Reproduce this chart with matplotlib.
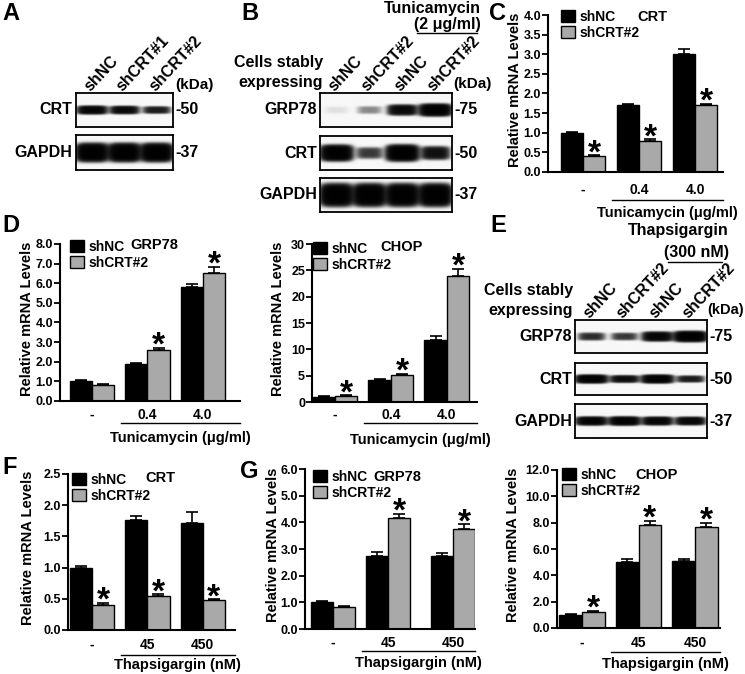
import numpy as np
import matplotlib
matplotlib.use('Agg')
import matplotlib.pyplot as plt
from matplotlib.lines import Line2D
from matplotlib.patches import Patch
from matplotlib.transforms import blended_transform_factory

plt.rcParams['font.family'] = ['Liberation Sans', 'DejaVu Sans']
plt.rcParams['font.weight'] = 'bold'

# ---------------- data ----------------
series = ['shNC', 'shCRT#2']
tm_doses = ['-', '0.4', '4.0']
tg_doses = ['-', '45', '450']

# C: CRT mRNA, tunicamycin
c_nc = [1.00, 1.70, 3.00]
c_nc_err = [0.02, 0.02, 0.14]
c_kd = [0.40, 0.78, 1.70]
c_kd_err = [0.03, 0.05, 0.04]
c_sig = [True, True, True]

# D left: GRP78 mRNA, tunicamycin
dg_nc = [1.02, 1.90, 5.80]
dg_nc_err = [0.03, 0.03, 0.15]
dg_kd = [0.83, 2.62, 6.50]
dg_kd_err = [0.02, 0.10, 0.35]
dg_sig = [False, True, True]

# D right: CHOP mRNA, tunicamycin
dc_nc = [1.0, 4.2, 11.8]
dc_nc_err = [0.05, 0.1, 0.8]
dc_kd = [1.2, 5.1, 24.0]
dc_kd_err = [0.1, 0.2, 1.3]
dc_sig = [True, True, True]

# F: CRT mRNA, thapsigargin
f_nc = [1.00, 1.76, 1.72]
f_nc_err = [0.03, 0.07, 0.17]
f_kd = [0.40, 0.54, 0.48]
f_kd_err = [0.04, 0.03, 0.01]
f_sig = [True, True, True]

# G left: GRP78 mRNA, thapsigargin
gg_nc = [1.02, 2.75, 2.74]
gg_nc_err = [0.03, 0.15, 0.12]
gg_kd = [0.83, 4.17, 3.75]
gg_kd_err = [0.02, 0.15, 0.18]
gg_sig = [False, True, True]

# G right: CHOP mRNA, thapsigargin
gc_nc = [1.02, 5.00, 5.12]
gc_nc_err = [0.05, 0.25, 0.15]
gc_kd = [1.22, 7.85, 7.70]
gc_kd_err = [0.10, 0.30, 0.30]
gc_sig = [True, True, True]

# western blot band intensities (0..1)
a_lanes = ['shNC', 'shCRT#1', 'shCRT#2']
a_crt = [0.75, 0.65, 0.45]
a_gapdh = [1.0, 1.0, 1.0]
b_lanes = ['shNC', 'shCRT#2', 'shNC', 'shCRT#2']
b_grp78 = [0.02, 0.12, 0.65, 0.95]
b_crt = [0.95, 0.30, 1.00, 0.55]
b_gapdh = [1.0, 1.0, 1.0, 1.0]
e_lanes = ['shNC', 'shCRT#2', 'shNC', 'shCRT#2']
e_grp78 = [0.35, 0.30, 0.75, 1.00]
e_crt = [0.90, 0.60, 0.90, 0.45]
e_gapdh = [0.80, 0.85, 0.75, 0.70]

# ---------------- figure ----------------
W, H = 745, 674
fig = plt.figure(figsize=(W / 100, H / 100), dpi=100)
GRAY = '#a9a9a9'


def rect(x0, y0, x1, y1):
    return [x0 / W, 1 - y1 / H, (x1 - x0) / W, (y1 - y0) / H]


def ftext(x, y, s, **kw):
    return fig.text(x / W, 1 - y / H, s, **kw)


def fline(x0, x1, y, lw=1.0):
    fig.add_artist(Line2D([x0 / W, x1 / W], [1 - y / H, 1 - y / H], color='black', lw=lw))


def bar_panel(box, pos, xlim, ymax, ystep, yfmt, gene, gene_xy, leg_xy,
              nc, nc_err, kd, kd_err, sig, xlabels, treat, offs, ylab_x):
    x0, y0, x1, y1 = box
    hpx = y1 - y0
    ax = fig.add_axes(rect(*box))
    x = np.array(pos, dtype=float)
    w = 0.4
    ax.bar(x - w / 2, nc, w, color='black', edgecolor='black', linewidth=1, zorder=2)
    ax.bar(x + w / 2, kd, w, color=GRAY, edgecolor='black', linewidth=1, zorder=2)
    for xs, v, e in [(x - w / 2, nc, nc_err), (x + w / 2, kd, kd_err)]:
        ax.errorbar(xs, v, yerr=[np.zeros(len(v)), e], fmt='none', ecolor='black',
                    elinewidth=1.2, capsize=4, capthick=1.2, zorder=1)
    for i, s in enumerate(sig):
        if s:
            ax.annotate('*', (x[i] + w / 2, kd[i] + kd_err[i]), xytext=(0, -5),
                        textcoords='offset points', ha='center', va='baseline',
                        fontsize=24, fontweight='bold', annotation_clip=False)
    for s in ['top', 'right']:
        ax.spines[s].set_visible(False)
    for s in ['left', 'bottom']:
        ax.spines[s].set_linewidth(1.5)
    ax.set_xlim(*xlim)
    ax.set_ylim(0, ymax)
    ticks = np.arange(0, ymax + ystep / 2, ystep)
    ax.set_yticks(ticks)
    ax.set_yticklabels([yfmt.format(t) for t in ticks], fontsize=9, fontweight='bold')
    ax.tick_params(axis='y', direction='out', length=4, width=1.3, pad=1)
    ax.set_xticks(x)
    ax.set_xticklabels(xlabels, fontsize=10, fontweight='bold')
    ax.tick_params(axis='x', length=0, pad=max(offs[0] - 7, 0) / 1.389)
    tr = blended_transform_factory(ax.transData, ax.transAxes)
    xs0 = x[1] - w - 0.08
    ax.plot([xs0, xlim[1]], [-offs[1] / hpx] * 2, transform=tr, clip_on=False,
            color='black', lw=1)
    ax.text((xs0 + xlim[1]) / 2, -offs[2] / hpx, treat, transform=tr, ha='center',
            va='center', fontsize=10.5, fontweight='bold')
    ftext(ylab_x, (y0 + y1) / 2 - 4, 'Relative mRNA Levels', rotation=90,
          ha='center', va='center', fontsize=10.5)
    handles = [Patch(facecolor='black', edgecolor='black', lw=1),
               Patch(facecolor=GRAY, edgecolor='black', lw=1)]
    ax.legend(handles, series, loc='upper left',
              bbox_to_anchor=(leg_xy[0] / W, 1 - leg_xy[1] / H),
              bbox_transform=fig.transFigure, frameon=False, borderpad=0,
              borderaxespad=0, handlelength=1.0, handleheight=1.0,
              handletextpad=0.3, labelspacing=0.12,
              prop={'size': 10, 'weight': 'bold'})
    ftext(gene_xy[0], gene_xy[1], gene, ha='left', va='center', fontsize=10.5)
    return ax


def blot(box, intens, thick, label, mw, label_x, mw_x):
    ax = fig.add_axes(rect(*box))
    n = len(intens)
    xs = np.linspace(0, n, 400)
    ys = np.linspace(0, 1, 100)
    X, Y = np.meshgrid(xs, ys)
    dark = np.zeros_like(X)
    for i, v in enumerate(intens):
        hw = 0.34 + 0.11 * v
        sy = thick * (0.6 + 0.4 * v)
        prof = np.exp(-(np.abs(X - (i + 0.5)) / hw) ** 4) * np.exp(-(np.abs(Y - 0.5) / sy) ** 4)
        dark += v * prof
    bg = 0.97
    img = bg * np.exp(-5.0 * dark)
    ax.imshow(img, extent=(0, n, 0, 1), cmap='gray', vmin=0, vmax=1, aspect='auto',
              origin='lower', interpolation='bilinear')
    ax.set_xticks([])
    ax.set_yticks([])
    for s in ax.spines.values():
        s.set_linewidth(1.3)
    yc = (box[1] + box[3]) / 2
    ftext(label_x, yc, label, ha='right', va='center', fontsize=11.5)
    ftext(mw_x, yc, mw, ha='left', va='center', fontsize=11.5)
    return ax


def lane_labels(lanes, x0, x1, ytop):
    n = len(lanes)
    step = (x1 - x0) / n
    for i, s in enumerate(lanes):
        cx = x0 + step * (i + 0.5)
        ftext(cx - 5, ytop - 4, s, rotation=47, rotation_mode='anchor',
              ha='left', va='center', fontsize=11.5)


# ---------------- panel A ----------------
ftext(11, 14, 'A', fontsize=17, ha='center', va='center')
blot((76, 93, 173, 127), a_crt, 0.13, 'CRT', '-50', 72, 175)
blot((76, 135, 173, 170), a_gapdh, 0.24, 'GAPDH', '-37', 72, 175)
lane_labels(a_lanes, 76, 173, 93)
ftext(175, 85, '(kDa)', ha='left', va='center', fontsize=11)

# ---------------- panel B ----------------
ftext(250, 14, 'B', fontsize=17, ha='center', va='center')
ftext(432, 9, 'Tunicamycin', ha='center', va='center', fontsize=11.5)
ftext(447, 25, '(2 μg/ml)', ha='center', va='center', fontsize=11.5)
fline(417, 477, 33)
ftext(323, 63, 'Cells stably', ha='right', va='center', fontsize=11.5)
ftext(323, 83, 'expressing', ha='right', va='center', fontsize=11.5)
blot((320, 93, 452, 127), b_grp78, 0.17, 'GRP78', '-75', 317, 454)
blot((320, 136, 452, 170), b_crt, 0.22, 'CRT', '-50', 317, 454)
blot((320, 178, 452, 212), b_gapdh, 0.3, 'GAPDH', '-37', 317, 454)
lane_labels(b_lanes, 320, 452, 93)
ftext(453, 84, '(kDa)', ha='left', va='center', fontsize=11)

# ---------------- panel C ----------------
ftext(497, 14, 'C', fontsize=17, ha='center', va='center')
bar_panel((548, 15, 723, 172), [0, 1, 2], (-0.625, 2.5), 4, 0.5, '{:.1f}', 'CRT',
          (637, 17), (561, 10), c_nc, c_nc_err, c_kd, c_kd_err, c_sig, tm_doses,
          'Tunicamycin (μg/ml)', (18, 28, 41), 515)

# ---------------- panel D ----------------
ftext(11, 226, 'D', fontsize=17, ha='center', va='center')
bar_panel((60, 244, 240, 401), [0, 1, 2], (-0.577, 2.67), 8, 1, '{:.1f}', 'GRP78',
          (130, 245), (70, 240), dg_nc, dg_nc_err, dg_kd, dg_kd_err, dg_sig, tm_doses,
          'Tunicamycin (μg/ml)', (14, 22, 37), 27)
bar_panel((312, 244, 477, 402), [0, 1, 2], (-0.41, 2.54), 30, 5, '{:.0f}', 'CHOP',
          (380, 247), (313, 242), dc_nc, dc_nc_err, dc_kd, dc_kd_err, dc_sig, tm_doses,
          'Tunicamycin (μg/ml)', (13, 21, 38), 278)

# ---------------- panel E ----------------
ftext(498, 226, 'E', fontsize=17, ha='center', va='center')
ftext(678, 231, 'Thapsigargin', ha='center', va='center', fontsize=11.5)
ftext(696, 253, '(300 nM)', ha='center', va='center', fontsize=11.5)
fline(668, 722, 262)
ftext(573, 291, 'Cells stably', ha='right', va='center', fontsize=11.5)
ftext(573, 310, 'expressing', ha='right', va='center', fontsize=11.5)
blot((575, 320, 707, 353), e_grp78, 0.15, 'GRP78', '-75', 572, 709)
blot((575, 363, 707, 395), e_crt, 0.13, 'CRT', '-50', 572, 709)
blot((575, 404, 707, 438), e_gapdh, 0.13, 'GAPDH', '-37', 572, 709)
lane_labels(e_lanes, 575, 707, 320)
ftext(707, 310, '(kDa)', ha='left', va='center', fontsize=10.5)

# ---------------- panel F ----------------
ftext(10, 467, 'F', fontsize=17, ha='center', va='center')
bar_panel((68, 474, 235, 630), [0, 1, 2], (-0.43, 2.58), 2.5, 0.5, '{:.1f}', 'CRT',
          (145, 478), (72, 473), f_nc, f_nc_err, f_kd, f_kd_err, f_sig, tg_doses,
          'Thapsigargin (nM)', (15, 25, 35), 28)

# ---------------- panel G ----------------
ftext(249, 472, 'G', fontsize=17, ha='center', va='center')
bar_panel((305, 469, 475, 629), [0, 1, 2.18], (-0.51, 2.58), 6, 1, '{:.1f}', 'GRP78',
          (373, 477), (313, 470), gg_nc, gg_nc_err, gg_kd, gg_kd_err, gg_sig, tg_doses,
          'Thapsigargin (nM)', (14, 22, 34), 273)
bar_panel((557, 470, 720, 628), [0, 1, 2], (-0.44, 2.44), 12, 2, '{:.1f}', 'CHOP',
          (635, 475), (562, 468), gc_nc, gc_nc_err, gc_kd, gc_kd_err, gc_sig, tg_doses,
          'Thapsigargin (nM)', (15, 24, 36), 513)

fig.savefig('out.png', dpi=100)
